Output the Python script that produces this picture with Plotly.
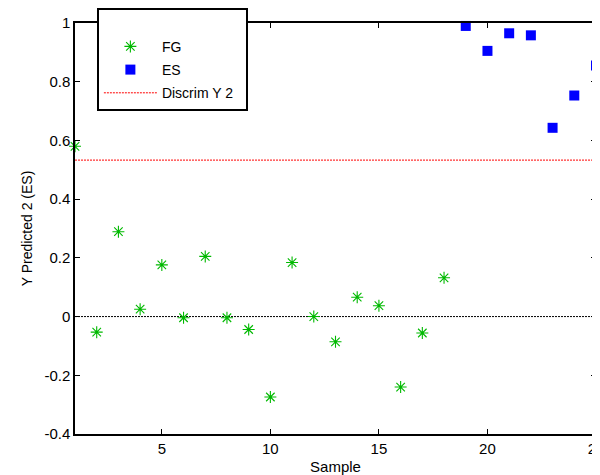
import plotly.graph_objects as go

fg_x = list(range(1, 19))
fg_y = [0.58, -0.053, 0.289, 0.025, 0.176, -0.004, 0.205, -0.004, -0.044,
        -0.274, 0.184, 0.0, -0.086, 0.066, 0.037, -0.240, -0.056, 0.132]
es_x = list(range(19, 26))
es_y = [0.99, 0.905, 0.965, 0.958, 0.643, 0.753, 0.855]
discrim_y = 0.533
x_range = [1, 25]
x_ticks = [5, 10, 15, 20, 25]
y_ticks = [-0.4, -0.2, 0, 0.2, 0.4, 0.6, 0.8, 1]
y_ticklabels = ["-0.4", "-0.2", "0", "0.2", "0.4", "0.6", "0.8", "1"]

FONT = "Liberation Sans, Arial, sans-serif"
GREEN = "rgb(0,185,0)"

fig = go.Figure()
fig.add_trace(go.Scatter(
    x=x_range, y=[0, 0], mode="lines", showlegend=False,
    line=dict(color="black", width=1, dash="2px,1px"), hoverinfo="skip"))
fig.add_trace(go.Scatter(
    x=fg_x, y=fg_y, mode="markers", name="FG", legendgroup="a",
    cliponaxis=False,
    marker=dict(symbol="asterisk-open", size=10, color=GREEN,
                line=dict(color=GREEN, width=1.1))))
fig.add_trace(go.Scatter(
    x=es_x, y=es_y, mode="markers", name="ES", legendgroup="b",
    cliponaxis=False,
    marker=dict(symbol="square", size=10, color="#0000ff",
                line=dict(width=0))))
fig.add_trace(go.Scatter(
    x=x_range, y=[discrim_y, discrim_y], mode="lines",
    name="Discrim Y 2\u00a0\u00a0",
    legendgroup="c",
    line=dict(color="red", width=1, dash="2px,1px")))

# The page shows the figure offset by the browser's default 8px body margin,
# so the margins here are set so the plot area lands where the reference has it.
fig.update_layout(
    width=600, height=475,
    margin=dict(l=67, r=12, t=15, b=49, autoexpand=False),
    paper_bgcolor="white", plot_bgcolor="white",
    font=dict(family=FONT, size=15, color="black"),
    showlegend=True,
    legend=dict(
        x=0.042, y=1.0365, xanchor="left", yanchor="top",
        bgcolor="white", bordercolor="black", borderwidth=2,
        font=dict(family=FONT, size=14, color="black"),
        traceorder="grouped", tracegroupgap=2, itemwidth=53,
        title=dict(text=" ", font=dict(size=16)),
    ),
    xaxis=dict(
        range=x_range, tickmode="array", tickvals=x_ticks,
        ticks="inside", ticklen=5, tickwidth=1, tickcolor="black",
        showline=True, linecolor="black", linewidth=1.5, mirror="allticks",
        showgrid=False, zeroline=False, automargin=False,
        tickfont=dict(size=15),
        title=dict(text="Sample", standoff=6, font=dict(size=15)),
    ),
    yaxis=dict(
        range=[-0.4, 1], tickmode="array", tickvals=y_ticks,
        ticktext=y_ticklabels,
        ticks="inside", ticklen=5, tickwidth=1, tickcolor="black",
        showline=True, linecolor="black", linewidth=1.5, mirror="allticks",
        showgrid=False, zeroline=False, automargin=False,
        tickfont=dict(size=15),
        title=dict(text="Y Predicted 2 (ES)", standoff=8, font=dict(size=14)),
    ),
)

fig.write_html("out.html")
